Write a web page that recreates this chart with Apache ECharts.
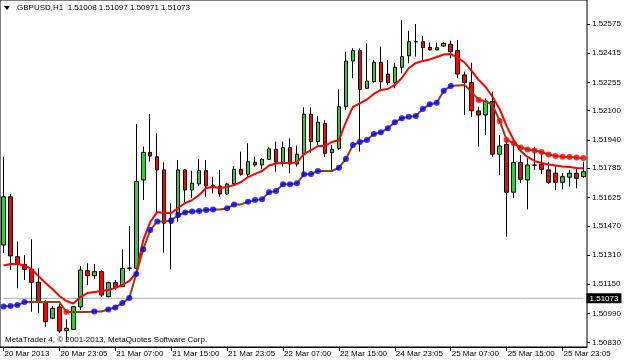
<!DOCTYPE html>
<html><head><meta charset="utf-8">
<script src="https://cdn.jsdelivr.net/npm/echarts@6.0.0/dist/echarts.min.js"></script>
<style>html,body{margin:0;padding:0;background:#fff}#c{width:625px;height:363px}</style>
</head><body><div id="c"></div>
<script>
const opens = [
1.51365,1.51629,1.51301,1.51259,1.51232,1.51161,1.51055,1.50964,1.51026,1.50896,
1.50903,1.51026,1.51224,1.51197,1.51219,1.51082,1.51159,1.51137,1.51237,1.51237,
1.51721,1.51872,1.51848,1.51776,1.51484,1.51520,1.51776,1.51666,1.51699,1.51772,
1.51693,1.51688,1.51644,1.51699,1.51779,1.51752,1.51818,1.51803,1.51834,1.51889,
1.51818,1.51898,1.51808,1.51862,1.52081,1.51931,1.52031,1.51870,1.51894,1.52122,
1.52372,1.52429,1.52223,1.52259,1.52365,1.52300,1.52254,1.52338,1.52401,1.52478,
1.52478,1.52447,1.52433,1.52454,1.52464,1.52429,1.52296,1.52254,1.52099,1.52077,
1.52150,1.51862,1.51916,1.51654,1.51816,1.51721,1.51803,1.51807,1.51776,1.51758,
1.51708,1.51736,1.51758,1.51739];
const closes = [
1.51629,1.51305,1.51259,1.51232,1.51161,1.51055,1.50945,1.51018,1.50894,1.50909,
1.51027,1.51228,1.51197,1.51219,1.51091,1.51159,1.51133,1.51237,1.51239,1.51712,
1.51872,1.51852,1.51776,1.51484,1.51511,1.51776,1.51666,1.51703,1.51772,1.51688,
1.51684,1.51644,1.51699,1.51779,1.51752,1.51821,1.51803,1.51834,1.51891,1.51818,
1.51898,1.51808,1.51862,1.52081,1.51931,1.52037,1.51867,1.51889,1.52122,1.52372,
1.52429,1.52217,1.52263,1.52365,1.52259,1.52254,1.52338,1.52396,1.52478,1.52477,
1.52445,1.52433,1.52445,1.52469,1.52423,1.52301,1.52254,1.52100,1.52077,1.52153,
1.51862,1.51907,1.51654,1.51816,1.51725,1.51803,1.51802,1.51779,1.51708,1.51708,
1.51739,1.51758,1.51730,1.51766];
const highs = [
1.51848,1.51643,1.51383,1.51310,1.51396,1.51237,1.51064,1.51031,1.51042,1.50958,
1.51031,1.51250,1.51265,1.51261,1.51228,1.51164,1.51173,1.51341,1.51469,1.52027,
1.51903,1.52082,1.51977,1.51818,1.51593,1.51830,1.51781,1.51772,1.51834,1.51830,
1.51739,1.51776,1.51704,1.51797,1.51876,1.51922,1.51848,1.51840,1.51900,1.51931,
1.51931,1.51949,1.51909,1.52119,1.52119,1.52071,1.52049,1.51912,1.52217,1.52423,
1.52442,1.52442,1.52469,1.52378,1.52451,1.52378,1.52363,1.52597,1.52538,1.52575,
1.52509,1.52473,1.52473,1.52475,1.52484,1.52487,1.52314,1.52363,1.52122,1.52168,
1.52204,1.51967,1.51940,1.51940,1.51858,1.51840,1.51903,1.51867,1.51821,1.51803,
1.51758,1.51776,1.51785,1.51821];
const lows = [
1.51321,1.51228,1.51128,1.51173,1.51000,1.50991,1.50918,1.50958,1.50883,1.50845,
1.50900,1.51009,1.51146,1.51179,1.51080,1.51079,1.51119,1.51135,1.51223,1.51201,
1.51611,1.51821,1.51539,1.51323,1.51232,1.51493,1.51595,1.51622,1.51688,1.51629,
1.51648,1.51629,1.51639,1.51693,1.51744,1.51739,1.51794,1.51779,1.51830,1.51766,
1.51794,1.51758,1.51794,1.51748,1.51867,1.51912,1.51848,1.51776,1.51885,1.52104,
1.52278,1.51876,1.52219,1.52254,1.52217,1.52241,1.52223,1.52305,1.52360,1.52396,
1.52378,1.52429,1.52431,1.52451,1.52387,1.52278,1.52077,1.52067,1.51903,1.51967,
1.51848,1.51748,1.51410,1.51621,1.51703,1.51560,1.51776,1.51754,1.51699,1.51666,
1.51670,1.51684,1.51675,1.51732];
const maValues = [
1.51253,1.51261,1.51261,1.51253,1.51234,1.51195,1.51157,1.51124,1.51086,1.51058,
1.51045,1.51080,1.51102,1.51108,1.51113,1.51119,1.51130,1.51146,1.51168,1.51212,
1.51392,1.51491,1.51546,1.51540,1.51540,1.51568,1.51595,1.51611,1.51639,1.51677,
1.51683,1.51677,1.51683,1.51693,1.51710,1.51737,1.51754,1.51770,1.51800,1.51811,
1.51814,1.51814,1.51817,1.51863,1.51885,1.51907,1.51907,1.51929,1.51940,1.52038,
1.52121,1.52140,1.52162,1.52192,1.52214,1.52219,1.52241,1.52279,1.52334,1.52361,
1.52372,1.52381,1.52394,1.52408,1.52411,1.52389,1.52364,1.52318,1.52268,1.52230,
1.52175,1.52110,1.52016,1.51940,1.51880,1.51847,1.51825,1.51814,1.51806,1.51800,
1.51795,1.51792,1.51787,1.51785];
const trailValues = [
1.51028,1.51031,1.51036,1.51053,1.51053,1.51053,1.51053,1.51053,1.51053,1.50998,
1.50998,1.50998,1.50998,1.51001,1.51001,1.51012,1.51023,1.51047,1.51075,1.51206,
1.51341,1.51447,1.51494,1.51494,1.51499,1.51529,1.51543,1.51548,1.51551,1.51557,
1.51559,1.51559,1.51566,1.51587,1.51587,1.51602,1.51611,1.51615,1.51654,1.51661,
1.51697,1.51697,1.51703,1.51752,1.51754,1.51770,1.51770,1.51770,1.51788,1.51836,
1.51912,1.51929,1.51940,1.51973,1.51982,1.52004,1.52037,1.52059,1.52067,1.52071,
1.52110,1.52135,1.52144,1.52210,1.52235,1.52238,1.52241,1.52203,1.52159,1.52153,
1.52131,1.52044,1.51940,1.51922,1.51899,1.51888,1.51882,1.51874,1.51860,1.51852,
1.51848,1.51847,1.51844,1.51841];
const trailDots = [
'b','b','b','b',null,null,null,null,null,'r',
null,null,null,'b',null,'b','b','b','b','b',
'b','b','b',null,'b','b','b','b','b','b',
'b',null,'b','b',null,'b','b','b','b','b',
'b','b','b','b','b','b',null,null,'b','b',
'b','b','b','b','b','b','b','b','b','b',
'b','b','b','b','b',null,null,null,'r',null,
null,'r','r','r','r','r','r','r','r','r',
'r','r','r','r'];
const tickLabels = ['20 Mar 2013','20 Mar 23:05','21 Mar 07:00','21 Mar 15:00','21 Mar 23:05','22 Mar 07:00','22 Mar 15:00','24 Mar 23:05','25 Mar 07:00','25 Mar 15:00','25 Mar 23:05'];
const labelEvery = 8;
const yTickValues = [1.50830,1.50990,1.51150,1.51310,1.51470,1.51625,1.51785,1.51940,1.52100,1.52255,1.52415,1.52575];
const yMin = 1.508065, yMax = 1.527063;
const bidPrice = 1.51073;
const titleText = 'GBPUSD,H1  1.51008 1.51097 1.50971 1.51073';
const footerText = 'MetaTrader 4, \u00A9 2001-2013, MetaQuotes Software Corp.';

const FONT = '"Liberation Sans", Arial, sans-serif';
const categories = opens.map((_, i) => i);
const candleData = opens.map((o, i) => [o, closes[i], lows[i], highs[i]]);
const blueDots = trailValues.map((v, i) => trailDots[i] === 'b' ? [i, v] : null).filter(Boolean);
const redDots = trailValues.map((v, i) => trailDots[i] === 'r' ? [i, v] : null).filter(Boolean);

const chart = echarts.init(document.getElementById('c'), null, {renderer: 'canvas'});
chart.setOption({
  animation: false,
  backgroundColor: '#fff',
  textStyle: {fontFamily: FONT},
  grid: {left: 0, right: 38, top: 0, bottom: 16, show: true, borderColor: '#000', borderWidth: 1, backgroundColor: '#fff'},
  xAxis: {
    type: 'category', data: categories, boundaryGap: true,
    axisLine: {show: true, lineStyle: {color: '#000'}},
    axisTick: {show: true, alignWithLabel: true, interval: labelEvery - 1, length: 4, lineStyle: {color: '#000'}},
    axisLabel: {
      interval: labelEvery - 1, align: 'left', margin: 3, fontSize: 8, color: '#000', fontFamily: FONT,
      padding: [0, 0, 0, 1], hideOverlap: false,
      formatter: (v, i) => (i % labelEvery === 0 ? (tickLabels[i / labelEvery] || '') : '')
    },
    splitLine: {show: false}
  },
  yAxis: {
    type: 'value', position: 'right', min: yMin, max: yMax,
    axisLine: {show: false},
    axisTick: {show: true, length: 3, customValues: yTickValues, lineStyle: {color: '#000'}},
    axisLabel: {customValues: yTickValues, fontSize: 8, color: '#000', margin: 5, fontFamily: FONT,
      formatter: v => Number(v).toFixed(5)},
    splitLine: {show: false}
  },
  series: [
    {
      type: 'line', data: categories.map(() => bidPrice), symbol: 'none', silent: true, z: 1,
      lineStyle: {color: '#A3ADB8', width: 1},
      endLabel: {show: true, formatter: bidPrice.toFixed(5), distance: 3,
        backgroundColor: '#000', color: '#fff', fontSize: 8, padding: [1, 3, 1, 3], fontFamily: FONT}
    },
    {
      type: 'candlestick', data: candleData, barWidth: 4, z: 2,
      itemStyle: {color: '#32CD32', color0: '#FF0000', borderColor: '#000', borderColor0: '#000', borderWidth: 1}
    },
    {type: 'line', data: maValues, symbol: 'none', lineStyle: {color: '#FF0000', width: 2}, z: 3},
    {type: 'line', data: trailValues, symbol: 'none', lineStyle: {color: '#8B4513', width: 2}, z: 4},
    {type: 'scatter', data: blueDots, symbolSize: 6, itemStyle: {color: '#0000FF'}, z: 5},
    {type: 'scatter', data: redDots, symbolSize: 6, itemStyle: {color: '#FF0000'}, z: 5}
  ],
  graphic: [
    {type: 'polygon', shape: {points: [[4, 6], [10, 6], [7, 10]]}, style: {fill: '#000'}, z: 10},
    {type: 'text', x: 17, y: 8, style: {text: titleText, font: '8px ' + FONT, fill: '#000', verticalAlign: 'middle'}, z: 10},
    {type: 'text', x: 5, y: 340, style: {text: footerText, font: '8px ' + FONT, fill: '#000', verticalAlign: 'middle'}, z: 10}
  ]
});
</script></body></html>
